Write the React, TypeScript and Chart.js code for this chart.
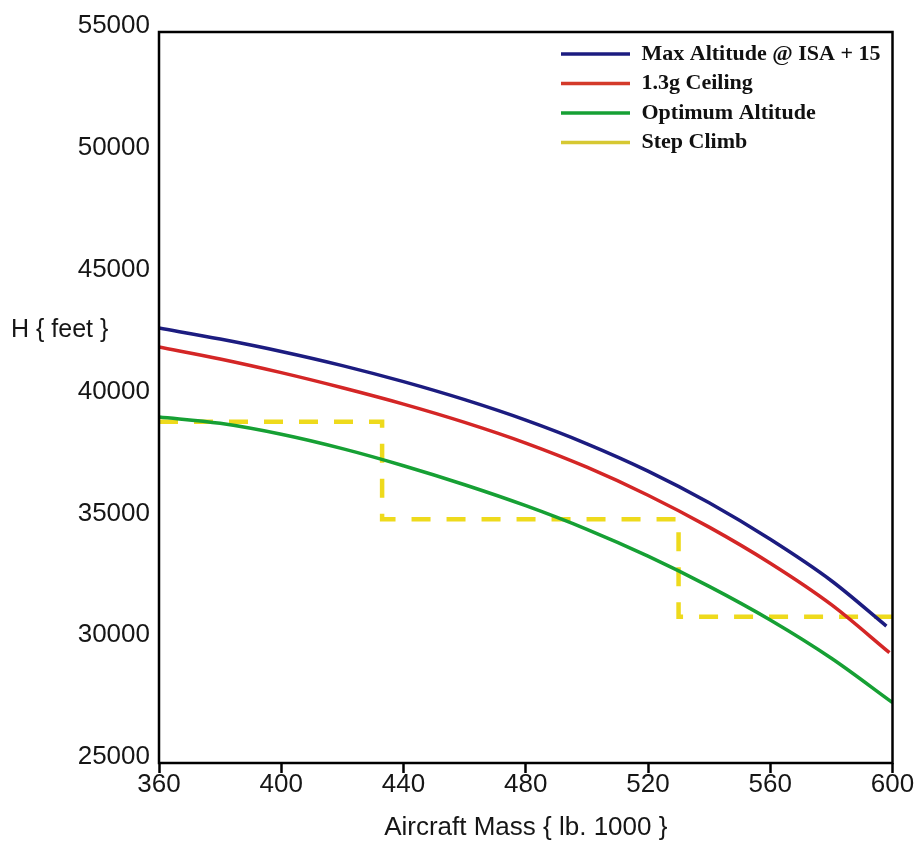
import { useEffect, useRef } from "react";
import { Chart, registerables } from "chart.js";

Chart.register(...registerables);

// ---- data ----
const massTicks = [360, 400, 440, 480, 520, 560, 600];
const altTicks = [25000, 30000, 35000, 40000, 45000, 50000, 55000];

const xTitle = "Aircraft Mass { lb. 1000 }";
const yTitle = "H { feet }";

const seriesNames = ["Max Altitude @ ISA + 15", "1.3g Ceiling", "Optimum Altitude", "Step Climb"];

const maxAltMass = [360, 380, 400, 420, 440, 460, 480, 500, 520, 540, 560, 580, 598];
const maxAltitude = [42850, 42400, 41890, 41310, 40650, 39910, 39070, 38100, 36980, 35680, 34180, 32480, 30620];

const ceilingMass = [360, 380, 400, 420, 440, 460, 480, 500, 520, 540, 560, 580, 599];
const ceiling13g = [42070, 41580, 41020, 40400, 39730, 38980, 38130, 37140, 35990, 34680, 33200, 31500, 29530];

const optimumMass = [360, 380, 400, 420, 440, 460, 480, 500, 520, 540, 560, 580, 600];
const optimumAltitude = [39200, 38940, 38490, 37900, 37200, 36420, 35560, 34590, 33490, 32250, 30870, 29300, 27480];

const stepMass = [360, 433, 433, 530, 530, 600];
const stepAltitude = [39000, 39000, 35000, 35000, 31000, 31000];

const colors = ["rgb(28,28,128)", "rgb(212,38,38)", "rgb(22,160,52)", "rgb(238,218,28)"];
const legendColors = ["rgb(28,28,128)", "rgb(212,58,42)", "rgb(22,160,52)", "rgb(214,200,50)"];

const pts = (xs: number[], ys: number[]) => xs.map((x, i) => ({ x, y: ys[i] }));

const SANS = '"Liberation Sans", Arial, Helvetica, sans-serif';
const SERIF = '"Liberation Serif", "Times New Roman", serif';

export default function App() {
  const ref = useRef<HTMLCanvasElement | null>(null);

  useEffect(() => {
    if (!ref.current) return;
    Chart.defaults.font.family = SANS;
    Chart.defaults.color = "#161616";

    const framePlugin = {
      id: "frame",
      afterDatasetsDraw(chart: any) {
        const { ctx, chartArea: a } = chart;
        ctx.save();
        ctx.strokeStyle = "#000";
        ctx.lineWidth = 2.5;
        ctx.strokeRect(a.left, a.top, a.right - a.left, a.bottom - a.top);
        ctx.restore();
      },
    };

    const extrasPlugin = {
      id: "extras",
      afterDraw(chart: any) {
        const { ctx, chartArea: a } = chart;
        ctx.save();
        // y axis title (horizontal)
        ctx.fillStyle = "#161616";
        ctx.font = `25px ${SANS}`;
        ctx.textAlign = "left";
        ctx.textBaseline = "middle";
        ctx.fillText(yTitle, 11, 330);
        // legend
        chart.data.datasets.forEach((ds: any, i: number) => {
          const y = a.top + 22 + i * 29.5;
          ctx.strokeStyle = legendColors[i];
          ctx.lineWidth = 3.5;
          ctx.setLineDash([]);
          ctx.beginPath();
          ctx.moveTo(a.right - 331.5, y);
          ctx.lineTo(a.right - 262.5, y);
          ctx.stroke();
          ctx.fillStyle = "#111";
          ctx.font = `bold 22px ${SERIF}`;
          ctx.textAlign = "left";
          ctx.textBaseline = "middle";
          ctx.fillText(ds.label, a.right - 251, y);
        });
        ctx.restore();
      },
    };

    const labelShift = 246; // y-axis labels sit slightly above their level

    const chart = new Chart(ref.current, {
      type: "line",
      data: {
        datasets: [
          {
            label: seriesNames[0],
            data: pts(maxAltMass, maxAltitude),
            borderColor: colors[0],
            borderWidth: 3.5,
            pointRadius: 0,
            cubicInterpolationMode: "monotone",
            fill: false,
            yAxisID: "y",
          },
          {
            label: seriesNames[1],
            data: pts(ceilingMass, ceiling13g),
            borderColor: colors[1],
            borderWidth: 3.5,
            pointRadius: 0,
            cubicInterpolationMode: "monotone",
            fill: false,
            yAxisID: "y",
          },
          {
            label: seriesNames[2],
            data: pts(optimumMass, optimumAltitude),
            borderColor: colors[2],
            borderWidth: 3.5,
            pointRadius: 0,
            cubicInterpolationMode: "monotone",
            fill: false,
            yAxisID: "y",
          },
          {
            label: seriesNames[3],
            data: pts(stepMass, stepAltitude),
            borderColor: colors[3],
            borderWidth: 4.5,
            borderDash: [19, 16],
            pointRadius: 0,
            tension: 0,
            fill: false,
            yAxisID: "y",
          },
        ],
      },
      options: {
        animation: false,
        responsive: false,
        events: [],
        layout: { padding: { left: 0, top: 32, right: 23.5, bottom: 0 } },
        plugins: { legend: { display: false }, tooltip: { enabled: false } },
        scales: {
          x: {
            type: "linear",
            min: massTicks[0],
            max: massTicks[massTicks.length - 1],
            afterBuildTicks: (s: any) => {
              s.ticks = massTicks.map((v) => ({ value: v }));
            },
            afterFit: (s: any) => {
              s.height = 80;
            },
            grid: {
              display: true,
              drawOnChartArea: false,
              drawTicks: true,
              tickLength: 10,
              tickWidth: 2.5,
              tickColor: "#000",
            },
            border: { display: false },
            ticks: {
              font: { size: 26 },
              padding: -4,
              color: "#161616",
              callback: (v: any) => String(v),
            },
            title: {
              display: true,
              text: xTitle,
              font: { size: 26 },
              color: "#161616",
              padding: { top: 0, bottom: 0 },
            },
          },
          y: {
            type: "linear",
            display: false,
            min: altTicks[0],
            max: altTicks[altTicks.length - 1],
          },
          yl: {
            type: "linear",
            position: "left",
            min: altTicks[0] - labelShift,
            max: altTicks[altTicks.length - 1] - labelShift,
            afterBuildTicks: (s: any) => {
              s.ticks = altTicks.map((v) => ({ value: v }));
            },
            afterFit: (s: any) => {
              s.width = 159;
            },
            grid: { display: false, drawTicks: false },
            border: { display: false },
            ticks: {
              font: { size: 26 },
              padding: 9,
              color: "#161616",
              callback: (v: any) => String(v),
            },
          },
        },
      } as any,
      plugins: [framePlugin, extrasPlugin],
    });

    return () => chart.destroy();
  }, []);

  return (
    <div style={{ position: "absolute", left: 0, top: 0, width: 916, height: 843, background: "#fff" }}>
      <canvas ref={ref} width={916} height={843} />
    </div>
  );
}
